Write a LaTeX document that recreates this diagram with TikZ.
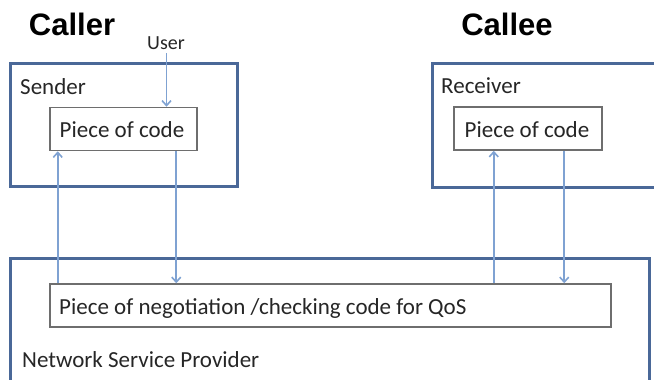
\documentclass[tikz,border=0pt]{standalone}
\usepackage{fontspec}
\setmainfont{Carlito}
\newfontfamily\headfont{Liberation Sans}
\usetikzlibrary{arrows.meta}
\definecolor{frameblue}{HTML}{4A6898}
\definecolor{arrowblue}{HTML}{7FA2D2}
\definecolor{boxgray}{HTML}{6E6E6E}
\definecolor{textgray}{HTML}{262626}
\tikzset{
  bigbox/.style={draw=frameblue, line width=3pt, inner sep=0pt},
  codebox/.style={draw=boxgray, line width=1.5pt, fill=white, inner sep=0pt},
  lbl/.style={font=\fontsize{23}{26}\selectfont, text=textgray, inner sep=0pt, anchor=base west},
  head/.style={font=\headfont\bfseries\fontsize{31}{34}\selectfont, inner sep=0pt, anchor=base},
  arr/.style={draw=arrowblue, line width=1.6pt, -{Straight Barb[length=5pt,width=9pt]}}
}
\begin{document}
\begin{tikzpicture}[x=1pt,y=-1pt]
\useasboundingbox (0,0) rectangle (654,380);
\clip (0,0) rectangle (654,380);
% headings
\node[head] (caller) at (72,35) {Caller};
\node[head] (callee) at (507,35) {Callee};
% outer boxes
\node[bigbox, minimum width=227pt, minimum height=123pt] (sender) at (123.5,124.5) {};
\node[bigbox, minimum width=240pt, minimum height=124pt] (receiver) at (552,125) {};
\node[bigbox, minimum width=639pt, minimum height=130pt] (nsp) at (329.5,323) {};
% labels of outer boxes
\node[lbl] (senderlbl) at (20,94) {Sender};
\node[lbl] (receiverlbl) at (441,93) {Receiver};
\node[lbl] (nsplbl) at (22,367) {Network Service Provider};
% inner boxes
\node[codebox, minimum width=147pt, minimum height=43pt] (code1) at (123.5,129) {};
\node[lbl, anchor=base] at (122,137) {Piece of code};
\node[codebox, minimum width=148pt, minimum height=43pt] (code2) at (528,128.5) {};
\node[lbl, anchor=base] at (527,137) {Piece of code};
\node[codebox, minimum width=561pt, minimum height=43pt] (nego) at (330.5,305.5) {};
\node[lbl] (negolbl) at (59,314) {Piece of negotiation /checking code for QoS};
% user
\node[font=\fontsize{20}{22}\selectfont, text=textgray, inner sep=0pt, anchor=base] (user) at (166,49) {User};
% connectors
\draw[arr] ([yshift=-4pt,xshift=0.5pt]user.south) coordinate (u1) -- (u1 |- code1.north);
\draw[arr] ([xshift=8.5pt]nego.north west) coordinate (a1) -- (a1 |- code1.south);
\draw[arr] ([xshift=-21.5pt]code1.south east) coordinate (a2) -- (a2 |- nego.north);
\draw[arr] ([xshift=40.5pt]nego.north west -| code2.south west) coordinate (a3) -- (a3 |- code2.south);
\draw[arr] ([xshift=-38.5pt]code2.south east) coordinate (a4) -- (a4 |- nego.north);
\end{tikzpicture}
\end{document}
